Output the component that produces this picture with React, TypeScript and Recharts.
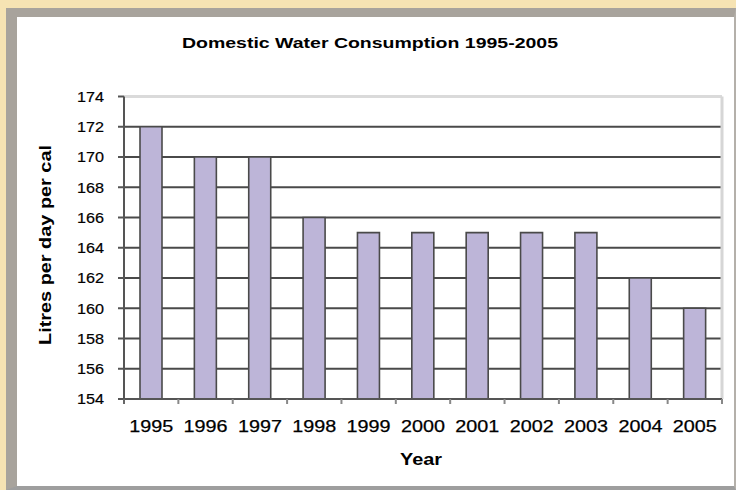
import React from "react";
import {
  BarChart,
  Bar,
  XAxis,
  YAxis,
  CartesianGrid,
  ReferenceLine,
} from "recharts";

const years = ["1995", "1996", "1997", "1998", "1999", "2000", "2001", "2002", "2003", "2004", "2005"];
const litres = [172, 170, 170, 166, 165, 165, 165, 165, 165, 162, 160];
const yTicks = [154, 156, 158, 160, 162, 164, 166, 168, 170, 172, 174];
const title = "Domestic Water Consumption 1995-2005";
const xTitle = "Year";
const yTitle = "Litres per day per cal";

const data = years.map((y, i) => ({ year: y, value: litres[i] }));

const FONT = "Arial, 'Liberation Sans', Helvetica, sans-serif";

const XTick = (props: any) => {
  const { x, y, payload, index } = props;
  const off = payload && typeof payload.offset === "number" ? payload.offset : 27.2;
  return (
    <g>
      {index === 0 && (
        <line x1={x - off} x2={x - off} y1={y} y2={y + 5} stroke="#666" strokeWidth={2} />
      )}
      <line x1={x + off} x2={x + off} y1={y} y2={y + 5} stroke="#888" strokeWidth={2} />
      <text
        x={x}
        y={y + 33}
        textAnchor="middle"
        fontFamily={FONT}
        fontSize={17}
        fill="#000"
        stroke="#000"
        strokeWidth={0.25}
        textLength={44}
        lengthAdjust="spacingAndGlyphs"
      >
        {payload.value}
      </text>
    </g>
  );
};

const YTick = (props: any) => {
  const { x, y, payload } = props;
  return (
    <text
      x={x}
      y={y}
      dy="0.36em"
      textAnchor="end"
      fontFamily={FONT}
      fontSize={15}
      fill="#000"
      stroke="#000"
      strokeWidth={0.2}
      textLength={27}
      lengthAdjust="spacingAndGlyphs"
    >
      {payload.value}
    </text>
  );
};

export default function App() {
  return (
    <div
      style={{
        position: "absolute",
        left: 0,
        top: 0,
        width: 736,
        height: 490,
        background: "#F6E3B3",
        overflow: "hidden",
      }}
    >
      <div
        style={{
          position: "absolute",
          left: 6,
          top: 8,
          width: 730,
          height: 482,
          boxSizing: "border-box",
          background: "#ffffff",
          borderLeft: "11px solid #a8a39c",
          borderTop: "9px solid #a8a39c",
          borderRight: "2px solid #b4b0aa",
          borderBottom: "4px solid #9e9e9e",
        }}
      />
      <div style={{ position: "absolute", left: 0, top: 0 }}>
        <BarChart
          width={736}
          height={490}
          data={data}
          margin={{ top: 96.5, right: 14, left: 64, bottom: 61 }}
          barCategoryGap={0}
        >
          <CartesianGrid vertical={false} stroke="#4a4a4a" strokeWidth={2} />
          <ReferenceLine y={174} stroke="#dadada" strokeWidth={3} />
          <ReferenceLine x="2005" position="end" stroke="#d6d6d6" strokeWidth={3} />
          <XAxis
            dataKey="year"
            height={30}
            tickLine={false}
            tickSize={0}
            tickMargin={0}
            axisLine={{ stroke: "#555", strokeWidth: 2 }}
            tick={<XTick />}
            interval={0}
          />
          <YAxis
            width={60}
            domain={[154, 174]}
            ticks={yTicks}
            allowDataOverflow
            tickSize={6}
            tickMargin={14}
            tickLine={{ stroke: "#555", strokeWidth: 2 }}
            axisLine={{ stroke: "#555", strokeWidth: 2 }}
            tick={<YTick />}
            interval={0}
          />
          <Bar
            dataKey="value"
            barSize={22}
            fill="#BDB5D8"
            stroke="#4a4a4a"
            strokeWidth={1.6}
            isAnimationActive={false}
          />
        </BarChart>
      </div>
      <svg
        width={736}
        height={490}
        style={{ position: "absolute", left: 0, top: 0, pointerEvents: "none" }}
      >
        <text
          x={370}
          y={48}
          textAnchor="middle"
          fontFamily={FONT}
          fontWeight="bold"
          fontSize={15.5}
          fill="#000"
          textLength={376}
          lengthAdjust="spacingAndGlyphs"
        >
          {title}
        </text>
        <text
          x={421}
          y={465}
          textAnchor="middle"
          fontFamily={FONT}
          fontWeight="bold"
          fontSize={16.5}
          fill="#000"
          textLength={42}
          lengthAdjust="spacingAndGlyphs"
        >
          {xTitle}
        </text>
        <text
          transform="translate(51,245) rotate(-90)"
          textAnchor="middle"
          fontFamily={FONT}
          fontWeight="bold"
          fontSize={17}
          fill="#000"
          textLength={200}
          lengthAdjust="spacingAndGlyphs"
        >
          {yTitle}
        </text>
      </svg>
    </div>
  );
}
